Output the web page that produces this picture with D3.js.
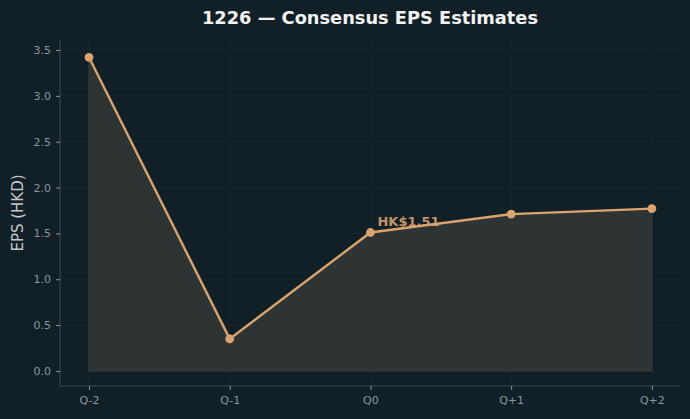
<!DOCTYPE html>
<html>
<head>
<meta charset="utf-8">
<script src="https://cdn.jsdelivr.net/npm/d3@7"></script>
<style>
  body { margin: 0; background: #111f26; }
  text { font-family: "DejaVu Sans", sans-serif; }
</style>
</head>
<body>
<div id="chart"></div>
<script>
// quarters and consensus EPS (HKD)
var quarters = ["Q-2", "Q-1", "Q0", "Q+1", "Q+2"];
var epsValues = [3.42, 0.35, 1.51, 1.71, 1.77];
var yTicks = [0.0, 0.5, 1.0, 1.5, 2.0, 2.5, 3.0, 3.5];
var highlight = { quarter: "Q0", label: "HK$1.51" };

var margin = {top: 40, right: 10, bottom: 33, left: 60},
    width = 690 - margin.left - margin.right,
    height = 419 - margin.top - margin.bottom;

var lineColor = "#dba46f";

var svg = d3.select("#chart")
  .append("svg")
    .attr("width", 690)
    .attr("height", 419)
    .style("background", "#111f26");

svg.append("text")
  .attr("x", margin.left + width / 2)
  .attr("y", 24)
  .attr("text-anchor", "middle")
  .attr("font-size", 17.8)
  .attr("font-weight", "bold")
  .attr("fill", "#f2f2f2")
  .text("1226 — Consensus EPS Estimates");

var g = svg.append("g")
  .attr("transform", "translate(" + margin.left + "," + margin.top + ")");

// index scale, padded like matplotlib margins
var x = d3.scaleLinear()
  .domain([-0.206, quarters.length - 1 + 0.2])
  .range([0, width]);

var y = d3.scaleLinear()
  .domain([-0.164, 3.609])
  .range([height, 0]);

// faint grid
g.append("g")
  .selectAll("line")
  .data(yTicks)
  .join("line")
    .attr("x1", 0).attr("x2", width)
    .attr("y1", function(d) { return y(d); })
    .attr("y2", function(d) { return y(d); })
    .attr("stroke", "#18282f")
    .attr("stroke-width", 0.8);
g.append("g")
  .selectAll("line")
  .data(quarters)
  .join("line")
    .attr("x1", function(d, i) { return x(i); })
    .attr("x2", function(d, i) { return x(i); })
    .attr("y1", 0).attr("y2", height)
    .attr("stroke", "#18282f")
    .attr("stroke-width", 0.8);

// area under the curve
g.append("path")
  .datum(epsValues)
  .attr("fill", "#2e3333")
  .attr("stroke", "#3b3d38")
  .attr("stroke-width", 1)
  .attr("d", d3.area()
    .x(function(d, i) { return x(i); })
    .y0(y(0))
    .y1(function(d) { return y(d); }));

// line
g.append("path")
  .datum(epsValues)
  .attr("fill", "none")
  .attr("stroke", lineColor)
  .attr("stroke-width", 2.4)
  .attr("d", d3.line()
    .x(function(d, i) { return x(i); })
    .y(function(d) { return y(d); }));

g.selectAll("circle")
  .data(epsValues)
  .join("circle")
    .attr("cx", function(d, i) { return x(i); })
    .attr("cy", function(d) { return y(d); })
    .attr("r", 4.4)
    .attr("fill", lineColor);

// label on Q0
var hi = quarters.indexOf(highlight.quarter);
g.append("text")
  .attr("x", x(hi) + 7)
  .attr("y", y(epsValues[hi]) - 6)
  .attr("font-size", 13)
  .attr("font-weight", "bold")
  .attr("fill", lineColor)
  .attr("fill-opacity", 0.9)
  .text(highlight.label);

// axes
var xAxis = g.append("g")
  .attr("transform", "translate(0," + height + ")")
  .call(d3.axisBottom(x)
    .tickValues(d3.range(quarters.length))
    .tickFormat(function(i) { return quarters[i]; })
    .tickSize(4)
    .tickPadding(6));

var yAxis = g.append("g")
  .call(d3.axisLeft(y)
    .tickValues(yTicks)
    .tickFormat(d3.format(".1f"))
    .tickSize(4)
    .tickPadding(5));

[xAxis, yAxis].forEach(function(a) {
  a.select(".domain").attr("stroke", "#3f4a4e");
  a.selectAll(".tick line").attr("stroke", "#8a9399");
  a.selectAll(".tick text")
    .attr("fill", "#8c969c")
    .attr("font-size", 11)
    .attr("font-family", "DejaVu Sans, sans-serif");
});
yAxis.select(".domain").attr("d", "M0,0V" + height);
xAxis.select(".domain").attr("d", "M0,0H" + width);

svg.append("text")
  .attr("transform", "translate(23," + (margin.top + height / 2) + ") rotate(-90)")
  .attr("text-anchor", "middle")
  .attr("font-size", 15)
  .attr("fill", "#c4c8ca")
  .text("EPS (HKD)");
</script>
</body>
</html>
